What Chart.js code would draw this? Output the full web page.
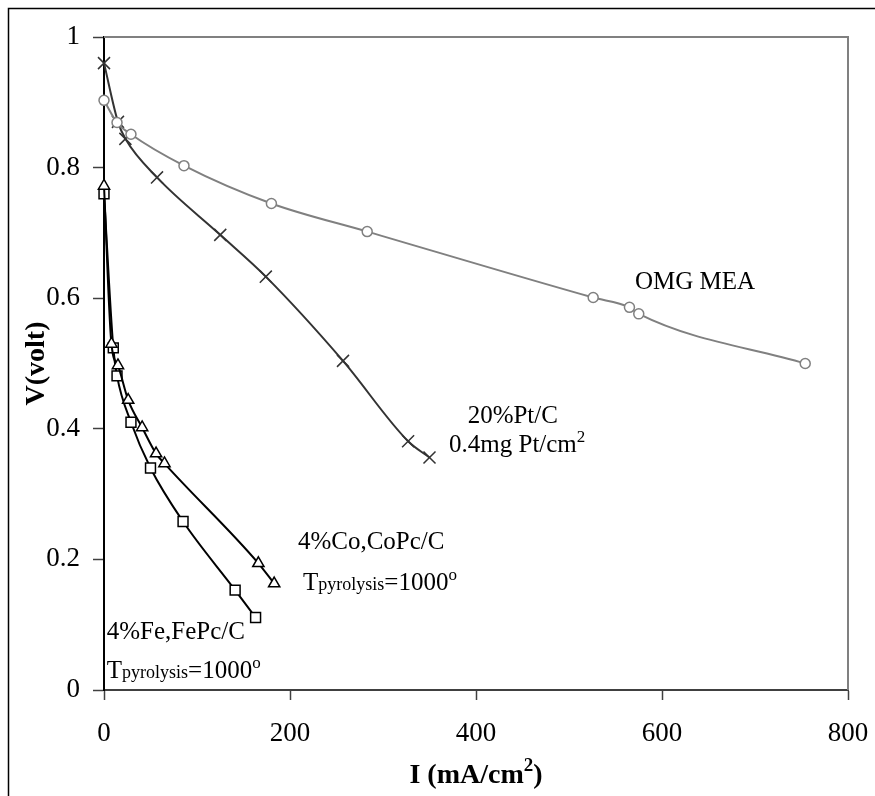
<!DOCTYPE html>
<html>
<head>
<meta charset="utf-8">
<script src="https://cdn.jsdelivr.net/npm/chart.js@4.4.1/dist/chart.umd.min.js"></script>
<style>
html,body{margin:0;padding:0;background:#fff;}
#wrap{position:relative;width:875px;height:796px;}
canvas{display:block;}
</style>
</head>
<body>
<div id="wrap"><canvas id="c" width="875" height="796"></canvas></div>
<script>
// Polarization curves: cell voltage vs current density
const xTicks = [0, 200, 400, 600, 800];
const yTicks = [0, 0.2, 0.4, 0.6, 0.8, 1];

// OMG MEA
const omgI = [0, 14, 29, 86, 180, 283, 526, 565, 575, 754];
const omgV = [0.903, 0.869, 0.851, 0.803, 0.745, 0.702, 0.601, 0.586, 0.576, 0.500];

// 20% Pt/C, 0.4 mg Pt/cm2
const ptI = [0, 15, 23, 57, 125, 174, 257, 327, 350];
const ptV = [0.960, 0.870, 0.844, 0.785, 0.697, 0.633, 0.504, 0.381, 0.356];

// 4% Co, CoPc/C (pyrolysed at 1000)
const coI = [0, 8, 15, 26, 41, 56, 65, 166, 183];
const coV = [0.772, 0.530, 0.497, 0.444, 0.402, 0.362, 0.347, 0.194, 0.163];

// 4% Fe, FePc/C (pyrolysed at 1000)
const feI = [0, 10, 14, 29, 50, 85, 141, 163];
const feV = [0.760, 0.524, 0.481, 0.410, 0.340, 0.258, 0.153, 0.111];

const pts = (xs, ys) => xs.map((x, i) => ({x: x, y: ys[i]}));

const SERIF = '"Liberation Serif", "Times New Roman", serif';

// text labels placed in data coordinates; each is a list of runs
const notes = [
  {x: 571, y: 0.614, runs: [{t: 'OMG MEA'}]},
  {x: 391, y: 0.409, runs: [{t: '20%Pt/C'}]},
  {x: 371, y: 0.364, runs: [{t: '0.4mg Pt/cm'}, {t: '2', sup: true}]},
  {x: 208.5, y: 0.216, runs: [{t: '4%Co,CoPc/C'}]},
  {x: 214, y: 0.153, runs: [{t: 'T'}, {t: 'pyrolysis', sub: true}, {t: '=1000'}, {t: 'o', sup: true}]},
  {x: 3, y: 0.078, runs: [{t: '4%Fe,FePc/C'}]},
  {x: 3, y: 0.018, runs: [{t: 'T'}, {t: 'pyrolysis', sub: true}, {t: '=1000'}, {t: 'o', sup: true}]}
];

function drawRuns(ctx, x, y, runs, size, bold) {
  const w = bold ? 'bold ' : '';
  let cx = x;
  runs.forEach(r => {
    let fs = size, dy = 0;
    if (r.sup) { fs = Math.round(size * 0.68); dy = -size * 0.42; }
    if (r.sub) { fs = Math.round(size * 0.72); dy = 0; }
    ctx.font = w + fs + 'px ' + SERIF;
    ctx.fillText(r.t, cx, y + dy);
    cx += ctx.measureText(r.t).width;
  });
  return cx - x;
}
function runsWidth(ctx, runs, size, bold) {
  const w = bold ? 'bold ' : '';
  let total = 0;
  runs.forEach(r => {
    const fs = r.sup ? Math.round(size * 0.68) : r.sub ? Math.round(size * 0.72) : size;
    ctx.font = w + fs + 'px ' + SERIF;
    total += ctx.measureText(r.t).width;
  });
  return total;
}

const decor = {
  id: 'decor',
  afterDraw(chart) {
    const ctx = chart.ctx;
    const a = chart.chartArea;
    const xs = chart.scales.x, ys = chart.scales.y;
    ctx.save();
    // outer frame (left and top edges)
    ctx.strokeStyle = '#000';
    ctx.lineWidth = 1.5;
    ctx.beginPath();
    ctx.moveTo(8.5, 796); ctx.lineTo(8.5, 8.5); ctx.lineTo(875, 8.5);
    ctx.stroke();
    // plot box top and right
    ctx.strokeStyle = '#808080';
    ctx.lineWidth = 2;
    ctx.beginPath();
    ctx.moveTo(a.left, a.top); ctx.lineTo(a.right, a.top); ctx.lineTo(a.right, a.bottom);
    ctx.stroke();

    ctx.fillStyle = '#000';
    ctx.textAlign = 'left';
    ctx.textBaseline = 'alphabetic';
    notes.forEach(n => {
      drawRuns(ctx, xs.getPixelForValue(n.x), ys.getPixelForValue(n.y), n.runs, 25, false);
    });

    // axis titles
    const xt = [{t: 'I (mA/cm'}, {t: '2', sup: true}, {t: ')'}];
    const xw = runsWidth(ctx, xt, 28, true);
    drawRuns(ctx, (a.left + a.right) / 2 - xw / 2, 783, xt, 28, true);

    ctx.translate(44, (a.top + a.bottom) / 2);
    ctx.rotate(-Math.PI / 2);
    ctx.font = 'bold 28px ' + SERIF;
    ctx.textAlign = 'center';
    ctx.fillText('V(volt)', 0, 0);
    ctx.restore();
  }
};

const tickFont = {family: SERIF, size: 27};

new Chart(document.getElementById('c'), {
  type: 'scatter',
  data: {
    datasets: [
      {
        label: 'OMG MEA', data: pts(omgI, omgV), showLine: true,
        borderColor: '#808080', borderWidth: 2, cubicInterpolationMode: 'monotone',
        pointStyle: 'circle', pointRadius: 5, pointBorderWidth: 1.5,
        pointBorderColor: '#808080', pointBackgroundColor: '#fff', clip: false
      },
      {
        label: '20%Pt/C', data: pts(ptI, ptV), showLine: true,
        borderColor: '#333', borderWidth: 2, cubicInterpolationMode: 'monotone',
        pointStyle: 'crossRot', pointRadius: 8.5, pointBorderWidth: 1.5,
        pointBorderColor: '#333', clip: false
      },
      {
        label: '4%Co,CoPc/C', data: pts(coI, coV), showLine: true,
        borderColor: '#000', borderWidth: 2, cubicInterpolationMode: 'monotone',
        pointStyle: 'triangle', pointRadius: 6.5, pointBorderWidth: 1.5,
        pointBorderColor: '#000', pointBackgroundColor: '#fff', clip: false
      },
      {
        label: '4%Fe,FePc/C', data: pts(feI, feV), showLine: true,
        borderColor: '#000', borderWidth: 2, cubicInterpolationMode: 'monotone',
        pointStyle: 'rect', pointRadius: 7, pointBorderWidth: 1.5,
        pointBorderColor: '#000', pointBackgroundColor: '#fff', clip: false
      }
    ]
  },
  options: {
    responsive: false,
    animation: false,
    events: [],
    layout: {padding: {top: 37, right: 27, left: 0, bottom: 0}},
    plugins: {legend: {display: false}, tooltip: {enabled: false}},
    scales: {
      x: {
        type: 'linear', position: 'bottom', min: 0, max: 800,
        afterBuildTicks: s => { s.ticks = xTicks.map(v => ({value: v})); },
        afterFit: s => { s.height = 106; s.paddingLeft = 0; s.paddingRight = 0; },
        ticks: {font: tickFont, color: '#000', padding: 18, maxRotation: 0, autoSkip: false,
                callback: v => String(v)},
        grid: {drawOnChartArea: false, drawTicks: true, tickLength: 10, tickColor: '#404040', tickWidth: 1.5},
        border: {color: '#404040', width: 2}
      },
      y: {
        type: 'linear', position: 'left', min: 0, max: 1,
        afterBuildTicks: s => { s.ticks = yTicks.map(v => ({value: v})); },
        afterFit: s => { s.width = 104; s.paddingTop = 0; s.paddingBottom = 0; },
        ticks: {font: tickFont, color: '#000', padding: 13, autoSkip: false,
                callback: v => String(v)},
        grid: {drawOnChartArea: false, drawTicks: true, tickLength: 11, tickColor: '#404040', tickWidth: 1.5},
        border: {color: '#000', width: 2}
      }
    }
  },
  plugins: [decor]
});
</script>
</body>
</html>
